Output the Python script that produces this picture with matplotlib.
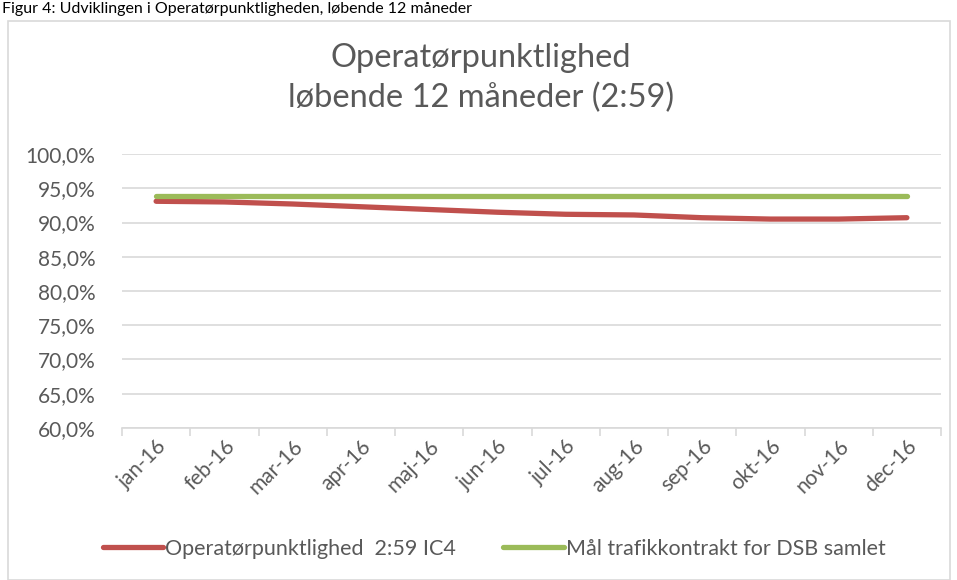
import matplotlib.pyplot as plt
from matplotlib.patches import Rectangle
from matplotlib.ticker import FuncFormatter

plt.rcParams['font.family'] = ['Lato', 'DejaVu Sans']

months = ['jan-16', 'feb-16', 'mar-16', 'apr-16', 'maj-16', 'jun-16',
          'jul-16', 'aug-16', 'sep-16', 'okt-16', 'nov-16', 'dec-16']
punktlighed = [93.1, 93.0, 92.7, 92.3, 91.9, 91.5, 91.2, 91.1, 90.7, 90.5, 90.5, 90.7]
maal = [93.8] * 12

red = '#C0504D'
green = '#9BBB59'
grey = '#595959'

fig = plt.figure(figsize=(9.57, 5.80), dpi=100)
W, H = 957, 580

# caption above the chart
fig.text(2 / W, 1 - 9 / H, 'Figur 4: Udviklingen i Operatørpunktligheden, løbende 12 måneder',
         fontsize=11.5, color='black', va='center', ha='left')

# chart frame
fig.patches.append(Rectangle((8 / W, 0), 942 / W, 1 - 21 / H, transform=fig.transFigure,
                             fill=False, edgecolor='#D9D9D9', linewidth=1.2))

ax = fig.add_axes([122 / W, 1 - 428 / H, (941 - 122) / W, (428 - 154) / H])
x = range(len(months))
ax.plot(x, punktlighed, color=red, linewidth=3.8, solid_capstyle='round',
        label='Operatørpunktlighed  2:59 IC4', zorder=3)
ax.plot(x, maal, color=green, linewidth=3.8, solid_capstyle='round',
        label='Mål trafikkontrakt for DSB samlet', zorder=3)

ax.set_xlim(-0.5, len(months) - 0.5)
ax.set_ylim(60, 100)
ax.set_yticks(range(60, 101, 5))
ax.yaxis.set_major_formatter(FuncFormatter(lambda v, p: f'{v:.1f}'.replace('.', ',') + '%'))
ax.grid(axis='y', color='#D9D9D9', linewidth=1.2)
ax.set_axisbelow(True)
for s in ['top', 'right', 'left']:
    ax.spines[s].set_visible(False)
ax.spines['bottom'].set_color('#D9D9D9')
ax.spines['bottom'].set_linewidth(1.2)

ax.set_xticks(x)
ax.set_xticklabels(months, rotation=45, ha='right', rotation_mode='anchor')
ax.set_xticks([i - 0.5 for i in range(len(months) + 1)], minor=True)
ax.tick_params(axis='x', which='major', length=0, pad=6, labelsize=15, labelcolor=grey)
ax.tick_params(axis='x', which='minor', length=6, color='#D9D9D9', width=1.2)
ax.tick_params(axis='y', length=0, pad=19, labelsize=15, labelcolor=grey)

fig.text(481 / W, 1 - 78 / H, 'Operatørpunktlighed\nløbende 12 måneder (2:59)',
         fontsize=23.5, color=grey, ha='center', va='center', linespacing=1.4)

leg = fig.legend(loc='center', bbox_to_anchor=(494 / W, 1 - 549 / H), ncol=2, frameon=False,
                 fontsize=15.5, handlelength=2.8, handletextpad=0.1, columnspacing=2.2)
for t in leg.get_texts():
    t.set_color(grey)

fig.savefig('out.png', dpi=100)
